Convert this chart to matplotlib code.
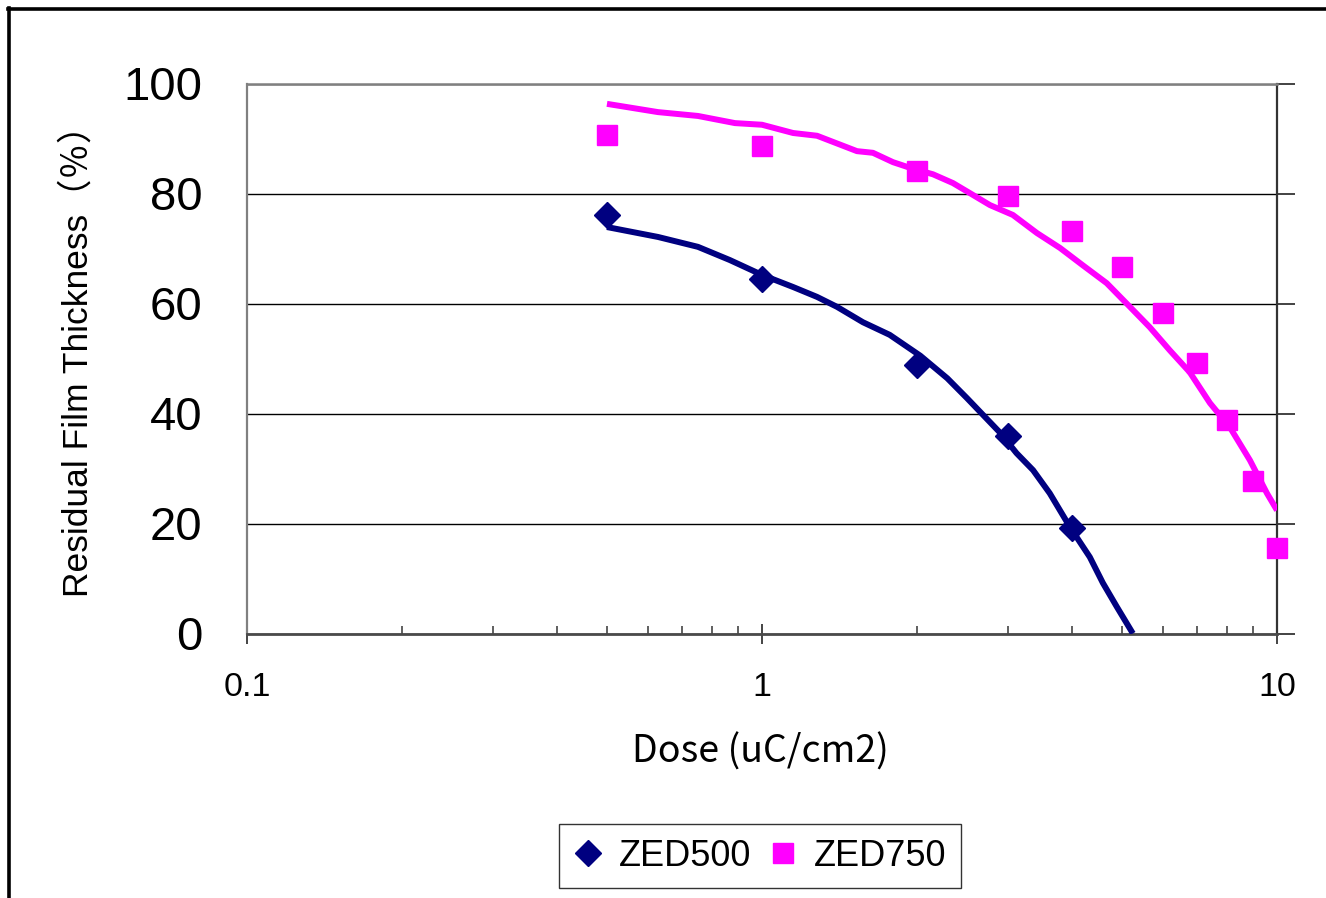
import matplotlib
matplotlib.use("Agg")
import matplotlib.pyplot as plt
from matplotlib.lines import Line2D
from matplotlib.ticker import FixedLocator, FixedFormatter, NullFormatter

# ---------------- data ----------------
dose_500 = [0.5, 1, 2, 3, 4]
thick_500 = [76.1, 64.4, 48.8, 35.9, 19.2]

dose_750 = [0.5, 1, 2, 3, 4, 5, 6, 7, 8, 9, 10]
thick_750 = [90.6, 88.6, 84.1, 79.5, 73.2, 66.6, 58.3, 49.2, 38.8, 27.7, 15.5]

# trend lines
fit_x_500 = [0.5, 0.628, 0.751, 0.866, 1.0, 1.149, 1.279, 1.398, 1.57, 1.77, 2.03,
             2.29, 2.5, 2.9, 3.12, 3.36, 3.62, 3.96, 4.33, 4.59, 4.89, 5.25]
fit_y_500 = [73.9, 72.1, 70.3, 67.9, 65.2, 63.0, 61.2, 59.4, 56.6, 54.3, 50.5,
             46.4, 42.8, 36.5, 32.8, 29.7, 25.5, 19.4, 13.9, 9.2, 4.8, 0.0]

fit_x_750 = [0.5, 0.628, 0.751, 0.886, 1.0, 1.149, 1.279, 1.529, 1.642, 1.796, 1.963,
             2.147, 2.348, 2.53, 2.77, 3.07, 3.42, 3.79, 4.19, 4.67, 5.18, 5.66,
             6.19, 6.77, 7.41, 8.1, 8.86, 9.56, 10.0]
fit_y_750 = [96.3, 94.8, 94.1, 92.8, 92.5, 91.0, 90.5, 87.7, 87.4, 85.7, 84.5,
             83.5, 81.9, 80.1, 77.9, 76.1, 72.8, 70.1, 67.0, 63.7, 59.4, 55.7,
             51.5, 47.5, 41.9, 37.5, 31.5, 25.5, 22.4]

x_ticks = [0.1, 1, 10]
x_tick_labels = ["0.1", "1", "10"]
y_ticks = [0, 20, 40, 60, 80, 100]
y_tick_labels = ["0", "20", "40", "60", "80", "100"]
series_names = ["ZED500", "ZED750"]

c500 = "#000080"
c750 = "#FF00FF"

W, H = 1326, 898
fig = plt.figure(figsize=(W / 100, H / 100), dpi=100)
fig.patch.set_facecolor("white")

ax = fig.add_axes([247 / W, 1 - 633.5 / H, (1277 - 247) / W, (633.5 - 83.5) / H])
ax.set_xscale("log")
ax.set_xlim(0.1, 10)
ax.set_ylim(0, 100)

# grid
ax.yaxis.grid(True, color="black", lw=1.0, zorder=0)
ax.set_axisbelow(True)

# trend lines
ax.plot(fit_x_500, fit_y_500, color=c500, lw=4.3, solid_capstyle="butt", zorder=3)
ax.plot(fit_x_750, fit_y_750, color=c750, lw=4.3, solid_capstyle="butt", zorder=3)

# markers
ax.plot(dose_500, thick_500, ls="none", marker="D", ms=13, color=c500,
        mec=c500, zorder=4, clip_on=False)
ax.plot(dose_750, thick_750, ls="none", marker="s", ms=15, color=c750,
        mec=c750, zorder=4, clip_on=False)

# spines
ax.spines["left"].set_color("#808080")
ax.spines["left"].set_linewidth(1.6)
ax.spines["top"].set_color("#808080")
ax.spines["top"].set_linewidth(1.8)
ax.spines["bottom"].set_color("#4a4a4a")
ax.spines["bottom"].set_linewidth(2.0)
ax.spines["right"].set_color("#333333")
ax.spines["right"].set_linewidth(1.6)

# y ticks: marks on right (outward), labels on left
ax.yaxis.set_major_locator(FixedLocator(y_ticks))
ax.yaxis.set_major_formatter(FixedFormatter(y_tick_labels))
ax.tick_params(axis="y", which="major", left=False, right=True, labelleft=True,
               labelright=False, direction="out", length=13, width=1.2,
               color="#222222", pad=19, labelsize=34)
for lab in ax.get_yticklabels():
    lab.set_fontfamily("Liberation Sans")

# x ticks
ax.xaxis.set_major_locator(FixedLocator(x_ticks))
ax.xaxis.set_major_formatter(FixedFormatter(x_tick_labels))
ax.xaxis.set_minor_formatter(NullFormatter())
ax.tick_params(axis="x", which="major", direction="inout", length=15, width=1.4,
               color="#444444", pad=20, labelsize=24.5, top=False)
ax.tick_params(axis="x", which="minor", direction="in", length=6, width=1.2,
               color="#444444", top=False)
for lab in ax.get_xticklabels():
    lab.set_fontfamily("Liberation Sans")

# axis titles
fig.text(78 / W, 1 - 352 / H, "Residual Film Thickness（％）", rotation=90,
         ha="center", va="center", fontsize=25.5,
         family=["Liberation Sans", "Noto Sans CJK JP"])
fig.text(760 / W, 1 - 752 / H, "Dose (uC/cm2)", ha="center", va="center",
         fontsize=27, family=["Noto Sans CJK JP", "DejaVu Sans"])

# legend
handles = [Line2D([], [], ls="none", marker="D", ms=13, color=c500),
           Line2D([], [], ls="none", marker="s", ms=15, color=c750)]
leg = fig.legend(handles, series_names, loc="center",
                 bbox_to_anchor=((567 + 953) / 2 / W, 1 - 856 / H),
                 ncol=2, frameon=True, fancybox=False, shadow=False,
                 prop={"family": "Liberation Sans", "size": 26},
                 handlelength=0.8, handletextpad=0.45, columnspacing=0.5,
                 borderpad=0.4, borderaxespad=0)
leg.get_frame().set_edgecolor("black")
leg.get_frame().set_linewidth(1.0)

# outer frame (top and left edges visible)
fig.add_artist(Line2D([8 / W, 1.0], [1 - 9 / H, 1 - 9 / H], transform=fig.transFigure,
                      color="black", lw=2.6))
fig.add_artist(Line2D([9 / W, 9 / W], [0, 1 - 8 / H], transform=fig.transFigure,
                      color="black", lw=2.6))

fig.savefig("out.png", dpi=100)
